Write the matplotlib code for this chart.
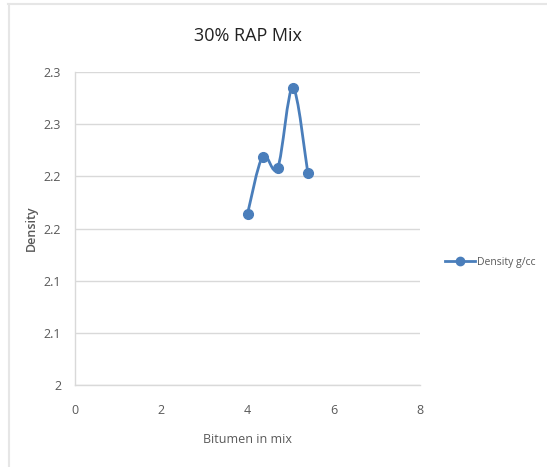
import numpy as np
import matplotlib
matplotlib.use("Agg")
import matplotlib.pyplot as plt
from matplotlib.path import Path
from matplotlib.patches import PathPatch
from matplotlib.lines import Line2D
from matplotlib.ticker import FuncFormatter

plt.rcParams["font.family"] = ["Open Sans", "DejaVu Sans"]

bitumen = [4.0, 4.35, 4.7, 5.05, 5.4]
density = [2.164, 2.219, 2.208, 2.285, 2.203]
x_ticks = [0, 2, 4, 6, 8]
y_ticks = [2.0, 2.05, 2.1, 2.15, 2.2, 2.25, 2.3]

blue = "#4a7ebb"
grid_col = "#d9d9d9"
text_col = "#595959"


def smooth_path(xs, ys):
    # excel style smoothed line: cubic bezier segments, catmull-rom controls
    pts = np.column_stack([xs, ys])
    n = len(pts)
    verts = [pts[0]]
    codes = [Path.MOVETO]
    for i in range(n - 1):
        p0 = pts[i - 1] if i > 0 else pts[i]
        p1 = pts[i]
        p2 = pts[i + 1]
        p3 = pts[i + 2] if i + 2 < n else pts[i + 1]
        c1 = p1 + (p2 - p0) / 6.0
        c2 = p2 - (p3 - p1) / 6.0
        verts += [c1, c2, p2]
        codes += [Path.CURVE4] * 3
    return Path(verts, codes)


fig = plt.figure(figsize=(5.47, 4.67), dpi=100)
ax = fig.add_axes([75 / 547, 1 - 385 / 467, 345 / 547, 313 / 467])

ax.set_xlim(0, 8)
ax.set_ylim(2.0, 2.3)
ax.set_xticks(x_ticks)
ax.set_yticks(y_ticks)
ax.yaxis.set_major_formatter(FuncFormatter(lambda v, p: "2" if abs(v - 2) < 1e-9 else "%.1f" % (v + 1e-9)))
ax.grid(axis="y", color=grid_col, linewidth=1)
ax.set_axisbelow(True)
for s in ["top", "right"]:
    ax.spines[s].set_visible(False)
for s in ["left", "bottom"]:
    ax.spines[s].set_color(grid_col)
    ax.spines[s].set_linewidth(1)
ax.tick_params(length=0, labelsize=9, colors=text_col)
ax.tick_params(axis="x", pad=14)
ax.tick_params(axis="y", pad=10)

ax.add_patch(PathPatch(smooth_path(bitumen, density), facecolor="none",
                       edgecolor=blue, linewidth=2, zorder=3))
ax.plot(bitumen, density, linestyle="none", marker="o", markersize=7,
        color=blue, zorder=4)

ax.set_title("30% RAP Mix", fontsize=13, color="#222222", pad=22)
ax.set_xlabel("Bitumen in mix", fontsize=9, color=text_col, labelpad=11)
ax.set_ylabel("Density", fontsize=9, color=text_col, labelpad=4, fontweight="semibold")

handle = Line2D([], [], color=blue, linewidth=2, marker="o", markersize=6)
fig.legend([handle], ["Density g/cc"], loc="center left",
           bbox_to_anchor=(445 / 547, 1 - 262 / 467), frameon=False,
           fontsize=7.5, labelcolor=text_col, handlelength=2.9,
           handletextpad=0.2, borderpad=0, borderaxespad=0)

# chart frame
fig.add_artist(Line2D([8 / 547, 1], [1 - 4 / 467, 1 - 4 / 467], color="#e6e6e6", linewidth=1.5))
fig.add_artist(Line2D([9 / 547, 9 / 547], [0, 1 - 4 / 467], color="#e6e6e6", linewidth=1.5))

fig.savefig("out.png", dpi=100)
